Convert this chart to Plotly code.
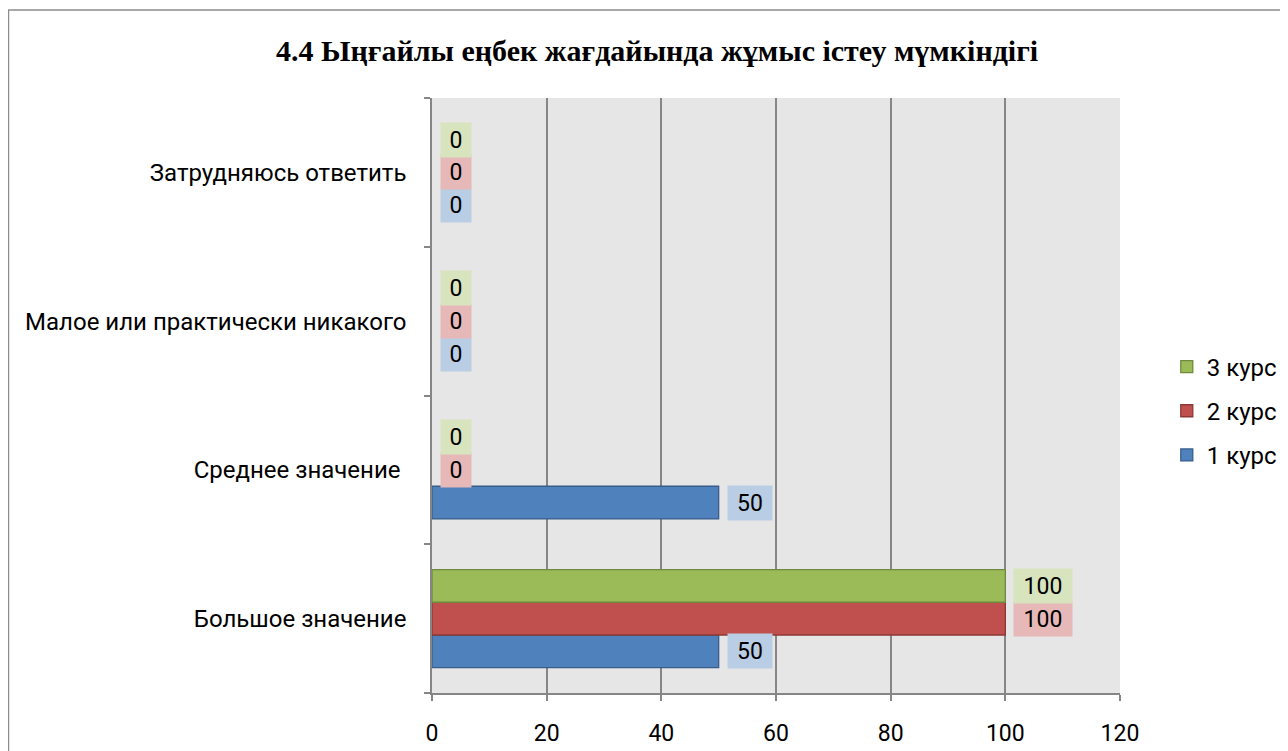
import plotly.graph_objects as go

categories = ["Большое значение", "Среднее значение ", "Малое или практически никакого", "Затрудняюсь ответить"]
series_names = ["1 курс", "2 курс", "3 курс"]
kurs1 = [50, 50, 0, 0]
kurs2 = [100, 0, 0, 0]
kurs3 = [100, 0, 0, 0]
x_ticks = [0, 20, 40, 60, 80, 100, 120]

FONT = "Roboto, 'Noto Sans', sans-serif"
COLORS = ["#4f81bd", "#c0504d", "#9bbb59"]
EDGES = ["#385d8a", "#8c3836", "#71893f"]
LABEL_BG = ["#b9cde5", "#e6b9b8", "#d7e4bd"]
BARGAP = 0.34

fig = go.Figure()
for i, (name, vals) in enumerate(zip(series_names, [kurs1, kurs2, kurs3])):
    fig.add_trace(go.Bar(
        x=vals, y=categories, orientation='h', name=name,
        marker=dict(color=COLORS[i],
                    line=dict(width=[1.3 if v > 0 else 0 for v in vals], color=EDGES[i])),
        legendgroup=name, legendrank=10 - i,
    ))

# data labels with tinted boxes, like the Excel original
bar_h = (1 - BARGAP) / 3
for i, vals in enumerate([kurs1, kurs2, kurs3]):
    for j, v in enumerate(vals):
        txt = str(v)
        fig.add_annotation(
            x=v, y=j + (i - 1) * bar_h, xref='x', yref='y',
            text=txt, showarrow=False, xanchor='left', yanchor='middle',
            xshift=8, bgcolor=LABEL_BG[i],
            width=len(txt) * 14 + 14, height=32,
            font=dict(family=FONT, size=23, color='#000'),
        )

# outer chart border (runs off the right and bottom edges)
fig.add_shape(type='rect', xref='paper', yref='paper',
              x0=-0.6156, x1=1.35, y0=-0.2, y1=1.148,
              line=dict(color='#8c8c8c', width=1.5), fillcolor='rgba(0,0,0,0)',
              layer='below')

fig.update_layout(
    width=1288, height=751,
    margin=dict(l=424, r=176, t=90, b=66),
    barmode='group', bargap=BARGAP, bargroupgap=0,
    paper_bgcolor='white', plot_bgcolor='#e6e6e6',
    font=dict(family=FONT, size=23, color='#000'),
    title=dict(text="<b>4.4 Ыңғайлы еңбек жағдайында жұмыс істеу мүмкіндігі</b>",
               x=0.504, xanchor='center', y=0.944, yanchor='middle',
               font=dict(family="'Liberation Serif', 'Times New Roman', serif", size=30)),
    xaxis=dict(range=[0, 120], tickvals=x_ticks, showgrid=True,
               gridcolor='#868686', gridwidth=1.5, showline=True,
               linecolor='#868686', linewidth=1.5, ticks='outside',
               ticklen=6, tickcolor='#868686', tickwidth=1.5,
               zeroline=False, ticklabelstandoff=13),
    yaxis=dict(showgrid=False, showline=True, linecolor='#868686',
               linewidth=1.5, ticks='outside', ticklen=6, tickcolor='#868686',
               tickwidth=1.5, tickson='boundaries', ticklabelstandoff=19,
               tickfont=dict(size=24)),
    legend=dict(traceorder='grouped', x=1.068, y=0.474, xanchor='left',
                yanchor='middle', tracegroupgap=10, itemwidth=30,
                font=dict(family=FONT, size=24)),
)

fig.write_html("out.html")
